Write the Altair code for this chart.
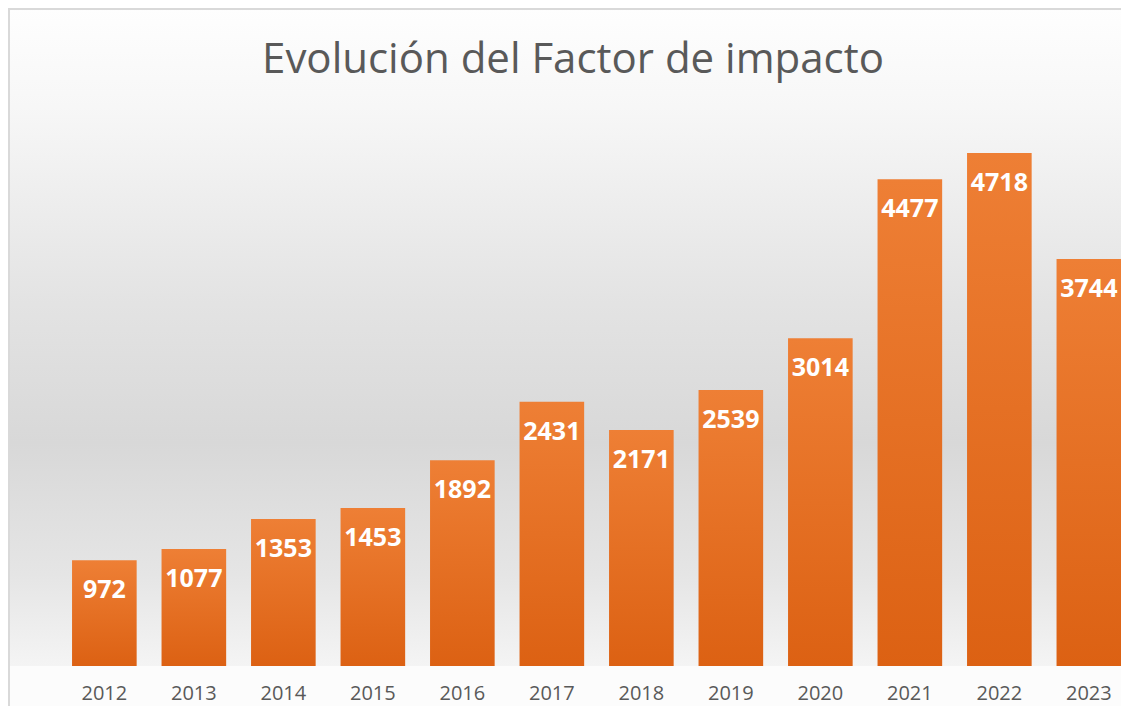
import altair as alt
import pandas as pd

years = ["2012", "2013", "2014", "2015", "2016", "2017",
         "2018", "2019", "2020", "2021", "2022", "2023"]
values = [972, 1077, 1353, 1453, 1892, 2431, 2171, 2539, 3014, 4477, 4718, 3744]
title_text = "Evolución del Factor de impacto"

W = 1113
H = 658
B = 40

df = pd.DataFrame({"year": years, "value": values})

x_enc = alt.X(
    "year:N",
    sort=years,
    scale=alt.Scale(domain=years, paddingInner=0.278, paddingOuter=0.139, range=[51.6, 1125.6]),
    axis=None,
)
y_enc = alt.Y("value:Q", scale=alt.Scale(domain=[0, 6052], nice=False, zero=True), axis=None)

one = alt.Data(values=[{}])

bg = alt.Chart(one).mark_rect(
    color=alt.Gradient(
        gradient="linear", x1=0, x2=0, y1=0, y2=1,
        stops=[
            alt.GradientStop(offset=0, color="#fefefe"),
            alt.GradientStop(offset=0.15, color="#f7f7f7"),
            alt.GradientStop(offset=0.45, color="#e3e3e3"),
            alt.GradientStop(offset=0.66, color="#d8d8d8"),
            alt.GradientStop(offset=0.86, color="#e5e5e5"),
            alt.GradientStop(offset=1, color="#f4f4f4"),
        ],
    )
).encode(x=alt.value(0), x2=alt.value(W), y=alt.value(0), y2=alt.value(H))

below = alt.Chart(one).mark_rect(color="#fcfcfc").encode(
    x=alt.value(0), x2=alt.value(W), y=alt.value(H), y2=alt.value(H + B)
)

frame = alt.Chart(one).mark_rect(
    filled=False, stroke="#d9d9d9", strokeWidth=2
).encode(x=alt.value(1), x2=alt.value(W + 50), y=alt.value(1), y2=alt.value(H + 100))

title = alt.Chart(one).mark_text(
    text=title_text, font="Open Sans", fontSize=42, color="#595959",
    align="center", baseline="alphabetic"
).encode(x=alt.value(565), y=alt.value(65))

bars = alt.Chart(df).mark_bar(
    color=alt.Gradient(
        gradient="linear", x1=0, x2=0, y1=0, y2=1,
        stops=[
            alt.GradientStop(offset=0, color="#ee7f35"),
            alt.GradientStop(offset=1, color="#dc6113"),
        ],
    ),
    strokeWidth=0,
).encode(x=x_enc, y=y_enc)

labels = alt.Chart(df).mark_text(
    font="Open Sans", fontSize=25, fontWeight="bold", color="white",
    align="center", baseline="alphabetic", dy=38
).encode(x=x_enc, y=y_enc, text=alt.Text("value:Q", format="d"))

year_labels = alt.Chart(df).mark_text(
    font="Open Sans", fontSize=20, color="#595959",
    align="center", baseline="alphabetic"
).encode(x=x_enc, y=alt.value(H + 34), text="year:N")

chart = alt.layer(bg, below, frame, title, bars, labels, year_labels).properties(
    width=W, height=H,
    autosize=alt.AutoSizeParams(type="none"),
    padding={"left": 0, "top": 0, "right": 0, "bottom": B},
).configure_view(stroke=None)

chart.save("out.html", embed_options={"renderer": "svg", "actions": False})
